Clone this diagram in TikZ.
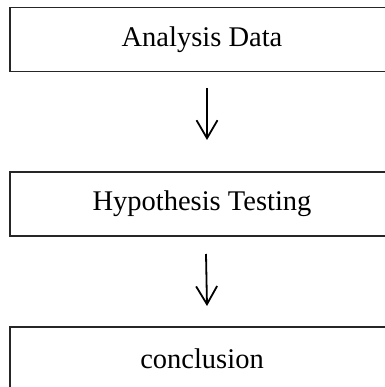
\documentclass[tikz,border=0pt]{standalone}
\usepackage{fontspec}
\setmainfont{Liberation Serif}
\usetikzlibrary{arrows.meta}
\begin{document}
\begin{tikzpicture}[x=1pt,y=1pt,
  box/.style={draw=black!85, line width=1.2pt, rectangle, minimum width=384pt, minimum height=64pt,
    inner sep=0pt, font=\fontsize{28.5}{34}\selectfont},
  flow/.style={line width=1.8pt, -{Straight Barb[length=18pt,width=21pt,line width=1.8pt]}}]
\useasboundingbox (0,0) rectangle (384,-387);
\node[box] (a) at (202,-39.5) {Analysis Data};
\node[box] (b) at (202,-204) {Hypothesis Testing};
\node[box] (c) at (202,-359) {conclusion};
\coordinate (a1) at (207,-88);
\coordinate (a2) at (207,-140);
\coordinate (b1) at (206,-254);
\coordinate (b2) at (207,-306);
\draw[flow] (a1) -- (a2);
\draw[flow] (b1) -- (b2);
\end{tikzpicture}
\end{document}
